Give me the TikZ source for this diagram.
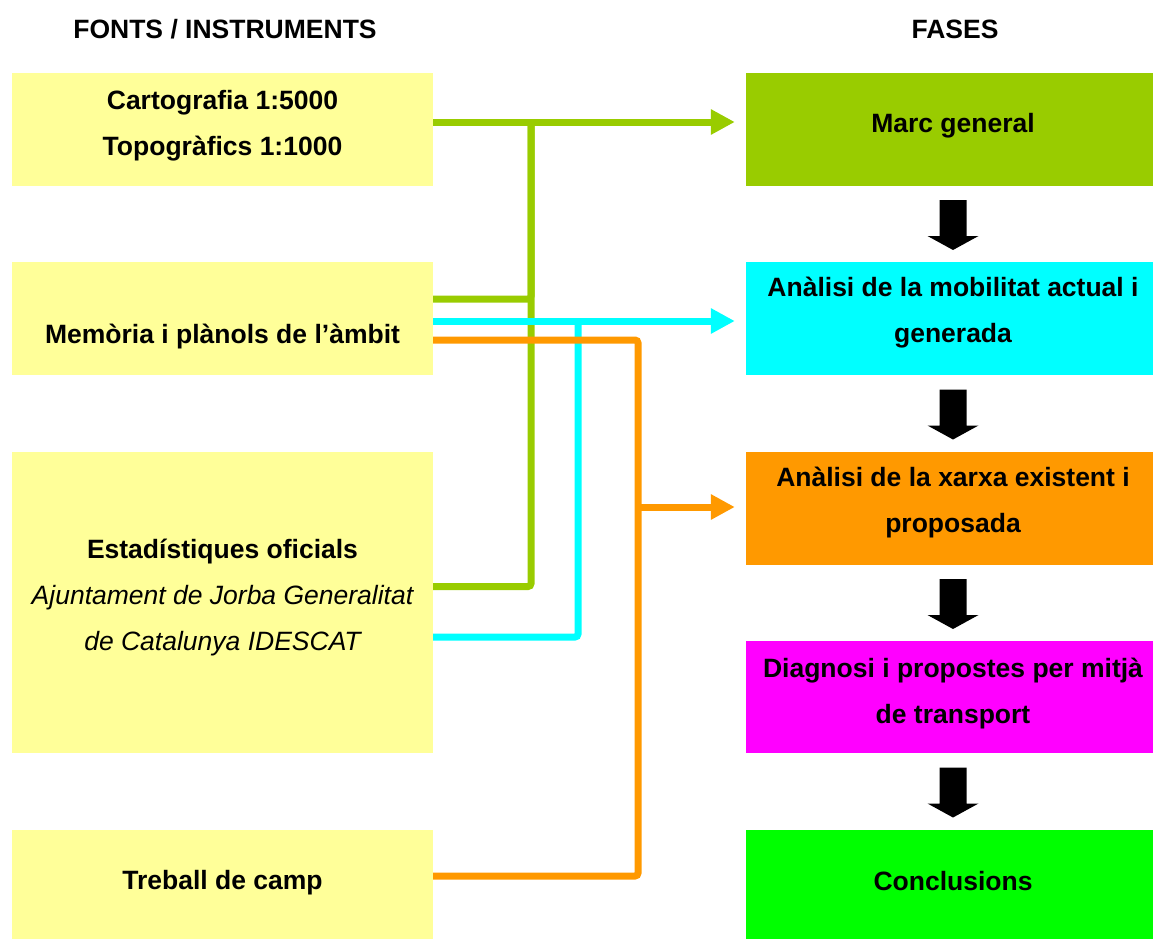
\documentclass[tikz,border=0pt]{standalone}
\usepackage{fontspec}
\setmainfont{Liberation Sans}
\usetikzlibrary{arrows.meta,calc}
\definecolor{fontyellow}{HTML}{FFFF99}
\definecolor{phasegreen}{HTML}{99CC00}
\definecolor{phasecyan}{HTML}{00FFFF}
\definecolor{phaseorange}{HTML}{FF9900}
\definecolor{phasemagenta}{HTML}{FF00FF}
\definecolor{phaselime}{HTML}{00FF00}
\begin{document}
\begin{tikzpicture}[x=1pt,y=-1pt,
  font=\fontsize{26.5pt}{46pt}\selectfont\bfseries,
  src/.style={fill=fontyellow,minimum width=421pt,inner sep=0pt},
  phase/.style={minimum width=414pt,minimum height=113pt,inner sep=0pt},
  txt/.style={align=center,inner sep=0pt},
  wire/.style={line width=7pt,rounded corners=3pt},
  tip/.style={-{Triangle[length=24pt,width=24pt]}}]
\useasboundingbox (0,0) rectangle (1153,938);

% headings
\node[txt] (hfonts) at (225,29) {FONTS / INSTRUMENTS};
\node[txt] (hfases) at (955,29) {FASES};

% fonts / instruments
\node[src,minimum height=113pt] (f1) at (222.5,129.5) {};
\node[src,minimum height=113pt] (f2) at (222.5,318.5) {};
\node[src,minimum height=301pt] (f3) at (222.5,602.5) {};
\node[src,minimum height=115pt] (f4) at (222.5,887.5) {};
\node[txt] (f1t) at ([yshift=4pt]f1.center) {Cartografia 1:5000\\Topogràfics 1:1000};
\node[txt] (f2t) at ([yshift=-18pt]f2.center) {Memòria i plànols de l’àmbit};
\node[txt] (f3t) at ([yshift=5pt]f3.center) {Estadístiques oficials\\
  \mdseries\itshape Ajuntament de Jorba Generalitat\\
  \mdseries\itshape de Catalunya IDESCAT};
\node[txt] (f4t) at ([yshift=5pt]f4.center) {Treball de camp};

% fases
\node[phase,fill=phasegreen] (p1) at (953,129.5) {};
\node[phase,fill=phasecyan] (p2) at (953,318.5) {};
\node[phase,fill=phaseorange] (p3) at (953,508.5) {};
\node[phase,fill=phasemagenta,minimum height=112pt] (p4) at (953,697) {};
\node[phase,fill=phaselime,minimum height=115pt] (p5) at (953,887.5) {};
\node[txt] (p1t) at ([yshift=4pt]p1.center) {Marc general};
\node[txt] (p2t) at ([yshift=5.5pt]p2.center) {Anàlisi de la mobilitat actual i\\generada};
\node[txt] (p3t) at ([yshift=6pt]p3.center) {Anàlisi de la xarxa existent i\\proposada};
\node[txt] (p4t) at ([yshift=3pt]p4.center) {Diagnosi i propostes per mitjà\\de transport};
\node[txt] (p5t) at ([yshift=6pt]p5.center) {Conclusions};

\foreach \a/\b in {p1/p2,p2/p3,p3/p4,p4/p5}
  \fill ($(\a.south)!0.5!(\b.north)$) ++(-13.5,-24) -- ++(27,0) -- ++(0,36)
    -- ++(12,0) -- ++(-25.5,14) -- ++(-25.5,-14) -- ++(12,0) -- cycle;

% connectors
\coordinate (gjoin) at (531,122);
\coordinate (cjoin) at (578,321);
\coordinate (ojoin) at (638,507);

\draw[wire,phasegreen,tip] ([yshift=7.5pt]f1.east) -- ($(gjoin -| p1.west)+(-11,0)$);
\draw[wire,phasegreen] ([yshift=19.5pt]f2.east) -| (gjoin);
\draw[wire,phasegreen] ([yshift=16pt]f3.east) -| (gjoin);

\draw[wire,phasecyan,tip] ([yshift=-2.5pt]f2.east) -- ($(cjoin -| p2.west)+(-11,0)$);
\draw[wire,phasecyan] ([yshift=-34.5pt]f3.east) -| (cjoin);

\draw[wire,phaseorange] ([yshift=-21.5pt]f2.east) -| (ojoin) |- ([yshift=11.5pt]f4.east);
\draw[wire,phaseorange,tip] (ojoin) -- ($(ojoin -| p3.west)+(-11,0)$);
\end{tikzpicture}
\end{document}
